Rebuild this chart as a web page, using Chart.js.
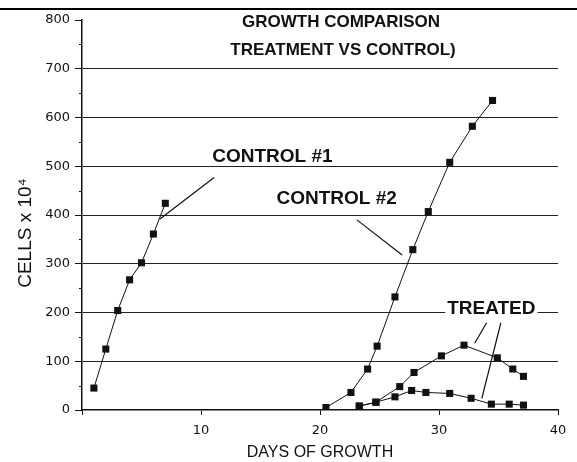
<!DOCTYPE html>
<html lang="en">
<head>
<meta charset="UTF-8">
<title>Growth Comparison</title>
<style>
    body { margin: 0; background: #fff; }
    .chart-wrapper { width: 577px; height: 462px; }
</style>
</head>
<body>
<div class="chart-wrapper">
    <canvas id="growthChart" width="577" height="462"></canvas>
</div>
<script src="https://cdn.jsdelivr.net/npm/chart.js"></script>
<script>
// Data
const control1Days = [1, 2, 3, 4, 5, 6, 7];
const control1Cells = [45, 125, 204, 267, 302, 361, 424];

const control2Days = [20.5, 22.6, 24.0, 24.8, 26.3, 27.8, 29.1, 30.9, 32.8, 34.5];
const control2Cells = [5, 36, 84, 131, 232, 329, 407, 508, 582, 635];

const treatedADays = [23.3, 24.7, 26.7, 27.9, 30.2, 32.1, 34.9, 36.2, 37.1];
const treatedACells = [8, 16, 48, 77, 111, 133, 107, 84, 69];

const treatedBDays = [23.3, 24.7, 26.3, 27.7, 28.9, 30.9, 32.7, 34.4, 35.9, 37.1];
const treatedBCells = [8, 16, 27, 40, 36, 34, 24, 12, 12, 10];

const yTicks = [0, 100, 200, 300, 400, 500, 600, 700, 800];
const xTicks = [0, 10, 20, 30, 40];

function toPoints(xs, ys) {
    return xs.map((x, i) => ({ x: x, y: ys[i] }));
}

function series(label, xs, ys) {
    return {
        label: label,
        data: toPoints(xs, ys),
        showLine: true,
        borderColor: '#111',
        borderWidth: 1,
        backgroundColor: '#111',
        pointStyle: 'rect',
        pointRadius: 5,
        pointBorderWidth: 0
    };
}

// title, axis label, labels with leader lines, minor ticks, scan border
const decorations = {
    id: 'decorations',
    afterDraw(chart) {
        const ctx = chart.ctx;
        const xs = chart.scales.x;
        const ys = chart.scales.y;
        const px = v => xs.getPixelForValue(v);
        const py = v => ys.getPixelForValue(v);

        ctx.save();
        // scan border at the top
        ctx.fillStyle = '#000';
        ctx.fillRect(0, 8, 577, 2);

        // minor ticks on the y axis
        ctx.strokeStyle = '#111';
        ctx.lineWidth = 1;
        for (let v = 50; v < 800; v += 100) {
            ctx.beginPath();
            ctx.moveTo(xs.left - 3, Math.round(py(v)) + 0.5);
            ctx.lineTo(xs.left, Math.round(py(v)) + 0.5);
            ctx.stroke();
        }

        ctx.fillStyle = '#111';
        ctx.textAlign = 'center';
        ctx.textBaseline = 'middle';

        // y axis title, sitting a little below the middle like the scan
        ctx.save();
        ctx.translate(26, 233);
        ctx.rotate(-Math.PI / 2);
        ctx.font = '19px "Liberation Sans", Arial, sans-serif';
        ctx.fillText('CELLS x 10⁴', 0, 0);
        ctx.restore();

        ctx.font = 'bold 17px "Liberation Sans", Arial, sans-serif';
        ctx.fillText('GROWTH COMPARISON', 341, 22);
        ctx.fillText('TREATMENT VS CONTROL)', 343, 50);

        ctx.font = 'bold 19px "Liberation Sans", Arial, sans-serif';
        ctx.fillText('CONTROL #1', px(16.0), py(519));
        ctx.fillText('CONTROL #2', px(21.4), py(433));

        // TREATED sits on the 200 grid line with a white box behind it
        const tw = ctx.measureText('TREATED').width;
        ctx.fillStyle = '#fff';
        ctx.fillRect(px(34.4) - tw / 2 - 2, py(207) - 10, tw + 4, 20);
        ctx.fillStyle = '#111';
        ctx.fillText('TREATED', px(34.4), py(207));

        const leader = (x1, y1, x2, y2) => {
            ctx.beginPath();
            ctx.moveTo(px(x1), py(y1));
            ctx.lineTo(px(x2), py(y2));
            ctx.stroke();
        };
        ctx.lineWidth = 1.2;
        leader(11.1, 477, 6.55, 392);
        leader(23.1, 390, 26.9, 318);
        leader(34.0, 179, 33.0, 137);
        leader(35.2, 179, 33.6, 24);
        ctx.restore();
    }
};

const tickFont = { family: '"DejaVu Sans", sans-serif', size: 13 };
const titleFont = { family: '"Liberation Sans", Arial, sans-serif', size: 16 };

const ctx = document.getElementById('growthChart').getContext('2d');
const growthChart = new Chart(ctx, {
    type: 'scatter',
    data: {
        datasets: [
            series('Control #1', control1Days, control1Cells),
            series('Control #2', control2Days, control2Cells),
            series('Treated A', treatedADays, treatedACells),
            series('Treated B', treatedBDays, treatedBCells)
        ]
    },
    options: {
        responsive: false,
        animation: false,
        layout: { padding: { top: 20, right: 19, left: 0, bottom: 0 } },
        plugins: {
            legend: { display: false },
            title: { display: false },
            tooltip: { enabled: false }
        },
        scales: {
            x: {
                type: 'linear',
                min: 0,
                max: 40,
                afterFit(scale) { scale.height = 52; },
                afterBuildTicks(scale) { scale.ticks = xTicks.map(v => ({ value: v })); },
                grid: { drawOnChartArea: false, drawTicks: true, tickLength: 5, color: '#111' },
                border: { color: '#111', width: 1.5 },
                ticks: {
                    color: '#111',
                    padding: 8,
                    font: tickFont,
                    callback: v => (v === 0 ? '' : v)
                },
                title: {
                    display: true,
                    text: 'DAYS OF GROWTH',
                    color: '#111',
                    padding: { top: 2, bottom: 0 },
                    font: titleFont
                }
            },
            y: {
                type: 'linear',
                min: 0,
                max: 800,
                afterFit(scale) { scale.width = 82; },
                afterBuildTicks(scale) { scale.ticks = yTicks.map(v => ({ value: v })); },
                grid: {
                    color: c => (c.tick && (c.tick.value === 800 || c.tick.value === 0)) ? 'rgba(0,0,0,0)' : '#222',
                    tickColor: '#111',
                    tickLength: 7,
                    lineWidth: 1
                },
                border: { color: '#111', width: 1.5 },
                ticks: {
                    color: '#111',
                    padding: 5,
                    font: tickFont
                }
            }
        }
    },
    plugins: [decorations]
});
</script>
</body>
</html>
